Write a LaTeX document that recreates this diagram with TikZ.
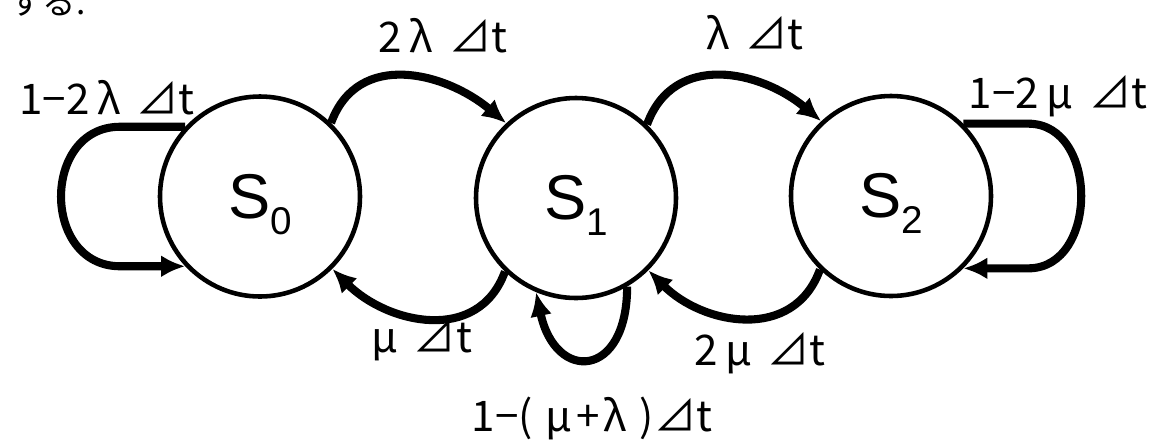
\documentclass[tikz,border=0pt]{standalone}
\usepackage{fontspec}
\newfontfamily\jpfont{Noto Sans CJK JP}
\newfontfamily\statefont{Liberation Sans}
\usetikzlibrary{arrows.meta,calc}

% state name with a lowered index
\newcommand{\stname}[2]{{\fontsize{36}{36}\selectfont #1}\smash{\raisebox{-0.32cm}{\fontsize{22}{22}\selectfont #2}}}
% wide-set greek letter and the delta-t
\newcommand{\gk}[1]{\hspace{0.18em}#1\hspace{0.18em}}
\newcommand{\dt}{\hspace{0.2em}⊿t}

\begin{document}
\begin{tikzpicture}[
        state/.style={circle, draw, line width=2.6pt, minimum size=4cm, inner sep=0pt, font=\statefont},
        trans/.style={line width=4.6pt, line join=round, -{Latex[length=4.8mm,width=4.4mm]}},
        rate/.style={font=\jpfont\fontsize{24}{24}\selectfont, inner sep=0pt},
        head/.style={font=\jpfont\fontsize{19}{19}\selectfont, inner sep=0pt, anchor=base west}
    ]
        \useasboundingbox (0,0) rectangle (23.06,-8.82);

        % End of the sentence above, cut by the page edge
        \node[head] (tail) at (0.18,-0.28) {する.};

        % The three states
        \node[state] (S0) at (5.20,-3.93) {\stname{S}{0}};
        \node[state] (S1) at (11.52,-3.96) {\stname{S}{1}};
        \node[state] (S2) at (17.82,-3.92) {\stname{S}{2}};

        % Staying in the same state
        \draw[trans] (S0.137) -- ++(-1.3,0) to[out=180,in=180,looseness=1.45] ($(S0.223)+(-1.3,0)$) -- (S0.223);
        \draw[trans] (S2.45) -- ++(1.3,0) to[out=0,in=0,looseness=1.25] ($(S2.-45)+(1.3,0)$) -- (S2.-45);
        \draw[trans] (S1.-60) to[out=-90,in=-78,looseness=2.6] (S1.-113);

        % Moving between neighbouring states
        \draw[trans] (S0.46) to[out=70,in=140,looseness=1.15] (S1.133);
        \draw[trans] (S1.46) to[out=70,in=140,looseness=1.15] (S2.133);
        \draw[trans] (S1.226) to[out=250,in=315,looseness=1.15] (S0.-45);
        \draw[trans] (S2.226) to[out=250,in=315,looseness=1.15] (S1.-45);

        % Transition probabilities
        \node[rate] (p00) at (2.14,-1.96) {1−2\gk{λ}\dt};
        \node[rate] (p01) at (8.86,-0.72) {2\gk{λ}\dt};
        \node[rate] (p12) at (15.02,-0.66) {\gk{λ}\dt};
        \node[rate] (p22) at (21.16,-1.92) {1−2\gk{μ}\dt};
        \node[rate] (p10) at (8.36,-6.80) {\gk{μ}\dt};
        \node[rate] (p21) at (15.20,-7.06) {2\gk{μ}\dt};
        \node[rate] (p11) at (11.84,-8.36) {1−(\hspace{0.3em}μ\hspace{0.1em}+\hspace{0.1em}λ\hspace{0.3em})⊿t};
    \end{tikzpicture}
\end{document}
